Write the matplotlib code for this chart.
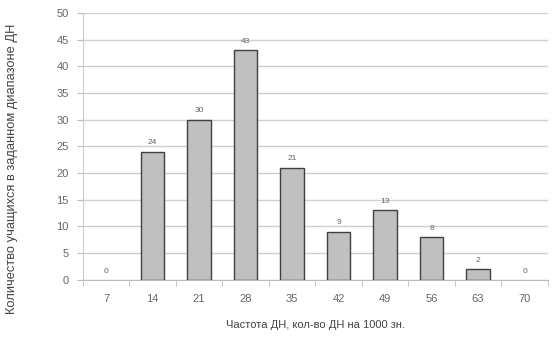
import numpy as np
import matplotlib
matplotlib.use('Agg')
import matplotlib.pyplot as plt

# Data
categories = ['7', '14', '21', '28', '35', '42', '49', '56', '63', '70']
counts = [0, 24, 30, 43, 21, 9, 13, 8, 2, 0]

plt.rcParams['font.family'] = ['Liberation Sans', 'DejaVu Sans']

fig = plt.figure(figsize=(5.59, 3.38), dpi=100)
ax = fig.add_axes([0.148, 0.172, 0.832, 0.79])

x = np.arange(len(categories))
bars = ax.bar(x, counts, width=0.5, color='#c0c0c0', edgecolor='#404040',
              linewidth=1.0, zorder=3)
for b, v in zip(bars, counts):
    if v == 0:
        b.set_linewidth(0)

# value labels above bars
for xi, v in zip(x, counts):
    ax.text(xi, v + 1.0, str(v), ha='center', va='bottom',
            fontsize=6, color='#666666', zorder=4)

ax.set_ylim(0, 50)
ax.set_xlim(-0.5, 9.17)
ax.set_yticks(np.arange(0, 51, 5))
ax.set_xticks(x)
ax.set_xticklabels(categories)
ax.set_xticks(np.arange(-0.5, 9.6, 1), minor=True)
ax.tick_params(axis='x', which='major', length=0, pad=10, labelsize=8,
               labelcolor='#666666')
ax.tick_params(axis='x', which='minor', length=4, color='#bbbbbb')
ax.tick_params(axis='y', length=4, color='#bbbbbb', labelsize=8,
               labelcolor='#666666', pad=6)

ax.yaxis.grid(True, color='#d0d0d0', linewidth=1.0, zorder=0)
for s in ['top', 'right']:
    ax.spines[s].set_visible(False)
ax.spines['left'].set_color('#cccccc')
ax.spines['bottom'].set_color('#bbbbbb')

ax.set_xlabel('Частота ДН, кол-во ДН на 1000 зн.', fontsize=8,
              color='#444444', labelpad=12)
fig.text(0.022, 0.5, 'Количество учащихся в заданном диапазоне ДН',
         rotation=90, ha='center', va='center', fontsize=9.3, color='#444444')

fig.savefig('out.png', dpi=100)
